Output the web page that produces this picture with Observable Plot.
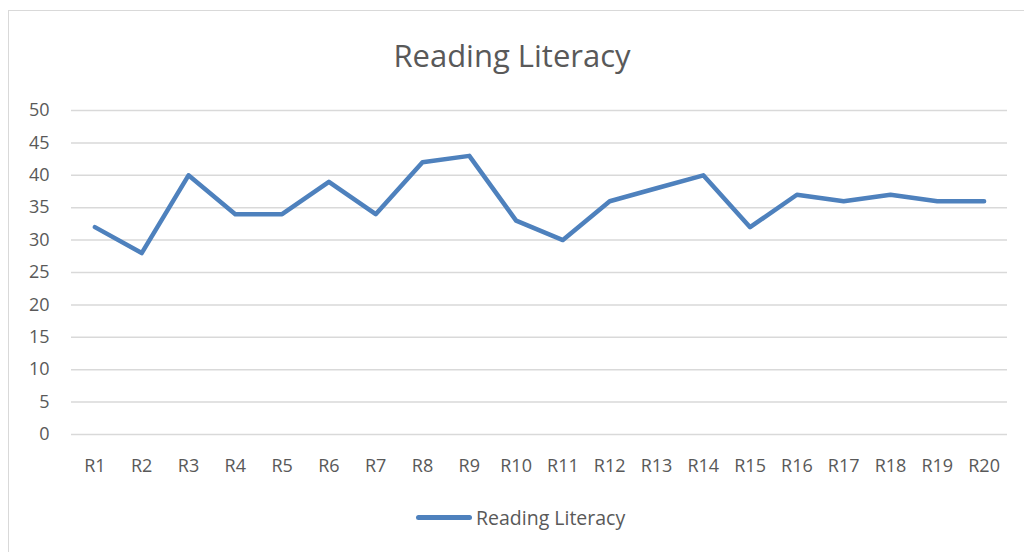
<!DOCTYPE html>
<html><head><meta charset="utf-8">
<script src="https://cdn.jsdelivr.net/npm/d3@7"></script>
<script src="https://cdn.jsdelivr.net/npm/@observablehq/plot@0.6"></script>
<style>
html,body{margin:0;padding:0;background:#fff;}
#wrap{position:relative;width:1024px;height:552px;overflow:hidden;font-family:"Open Sans",sans-serif;color:#595959;}
#frame{position:absolute;left:8px;top:10px;width:1030px;height:560px;border:1.5px solid #d9d9d9;box-sizing:border-box;}
#title{position:absolute;left:0;width:1024px;top:34px;text-align:center;font-size:31px;line-height:42px;color:#595959;}
#chart{position:absolute;left:0;top:0;}
#legend{position:absolute;top:504px;left:416px;display:flex;align-items:center;font-size:19.5px;color:#595959;}
#legend .sw{width:56px;height:5px;border-radius:3px;background:#4e81bd;margin-right:4px;}
</style></head>
<body><div id="wrap"><div id="frame"></div><div id="title">Reading Literacy</div><div id="chart"></div>
<div id="legend"><span class="sw"></span><span>Reading Literacy</span></div></div>
<script>
const categories = ["R1","R2","R3","R4","R5","R6","R7","R8","R9","R10","R11","R12","R13","R14","R15","R16","R17","R18","R19","R20"];
const values = [32,28,40,34,34,39,34,42,43,33,30,36,38,40,32,37,36,37,36,36];
const yTicks = [0,5,10,15,20,25,30,35,40,45,50];
const data = categories.map((c,i)=>({cat:c, v:values[i]}));
const plot = Plot.plot({
  width:1024, height:552,
  marginLeft:71, marginRight:17, marginTop:110, marginBottom:118,
  style:{background:"transparent", fontFamily:"Open Sans, sans-serif", fontSize:"18px", color:"#595959"},
  x:{type:"point", domain:categories, padding:0.5, round:false, label:null},
  y:{domain:[0,50], ticks:yTicks, label:null},
  marks:[
    Plot.ruleY(yTicks, {stroke:"#d9d9d9", strokeWidth:1.5}),
    Plot.axisY({ticks:yTicks, tickSize:0, tickPadding:22, label:null, fill:"#595959", fontSize:18}),
    Plot.axisX({tickSize:0, tickPadding:25, label:null, fill:"#595959", fontSize:18}),
    Plot.line(data, {x:"cat", y:"v", stroke:"#4e81bd", strokeWidth:4.5, strokeLinecap:"round", strokeLinejoin:"round"})
  ]
});
document.getElementById("chart").appendChild(plot);
</script></body></html>
